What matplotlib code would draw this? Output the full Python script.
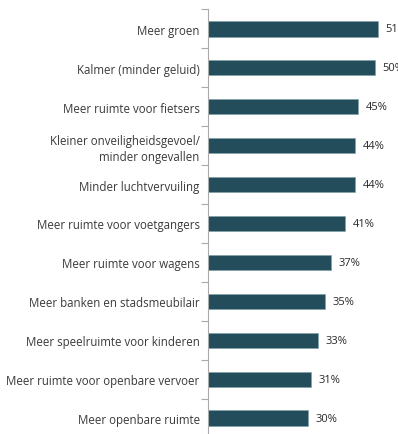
import matplotlib
matplotlib.use("Agg")
import matplotlib.pyplot as plt

categories = [
    "Meer groen",
    "Kalmer (minder geluid)",
    "Meer ruimte voor fietsers",
    "Kleiner onveiligheidsgevoel/\nminder ongevallen",
    "Minder luchtvervuiling",
    "Meer ruimte voor voetgangers",
    "Meer ruimte voor wagens",
    "Meer banken en stadsmeubilair",
    "Meer speelruimte voor kinderen",
    "Meer ruimte voor openbare vervoer",
    "Meer openbare ruimte",
]
values = [51, 50, 45, 44, 44, 41, 37, 35, 33, 31, 30]
value_labels = ["51%", "50%", "45%", "44%", "44%", "41%", "37%", "35%", "33%", "31%", "30%"]

W, H = 398, 435
fig = plt.figure(figsize=(W / 100, H / 100), dpi=100)
ax_left = 208 / W
ax_top = 10.5
ax_bottom = 438.5
ax = fig.add_axes([ax_left, (H - ax_bottom) / H, 1 - ax_left, (ax_bottom - ax_top) / H])

font = "Open Sans"
color_bar = "#234d5a"
n = len(categories)
ypos = list(range(n))
ax.barh(ypos, values, height=0.39, color=color_bar, edgecolor="#7fa0a8", linewidth=0.4)
ax.set_ylim(n - 0.5, -0.5)
ax.set_xlim(0, 57)

for y, v, lab in zip(ypos, values, value_labels):
    ax.text(v + 2.3, y, lab, va="center", ha="left", fontsize=8.0, family=font, color="#2a2a2a")

ax.set_yticks(ypos)
ax.set_yticklabels(categories, family=font, fontsize=8.3, color="#3a3a3a", linespacing=1.25)
ax.tick_params(axis="y", length=0, pad=6)
ax.set_yticks([i - 0.5 for i in range(n + 1)], minor=True)
ax.tick_params(axis="y", which="minor", length=5, color="#aaaaaa", width=0.8)
ax.set_xticks([])
for s in ["top", "right", "bottom"]:
    ax.spines[s].set_visible(False)
ax.spines["left"].set_color("#aaaaaa")
ax.spines["left"].set_linewidth(0.8)
for t in ax.get_yticklabels():
    t.set_multialignment("right")

fig.savefig("out.png", dpi=100)
